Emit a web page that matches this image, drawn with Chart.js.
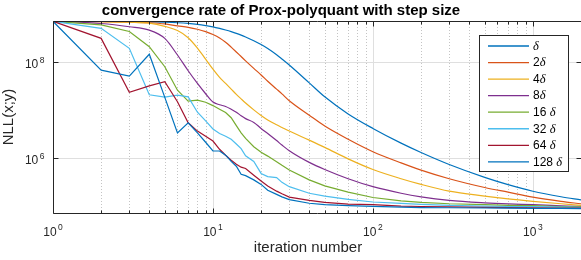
<!doctype html>
<html lang="en">
<head>
<meta charset="utf-8">
<title>convergence rate of Prox-polyquant with step size</title>
<script src="https://cdn.jsdelivr.net/npm/chart.js@4.4.1/dist/chart.umd.min.js"></script>
<style>
  body { margin: 0; background: #fff; }
  #wrap { width: 581px; height: 260px; }
</style>
</head>
<body>
<div id="wrap"><canvas id="conv" width="581" height="260"></canvas></div>
<script>
// iteration numbers shared by all runs
const iters = [1, 2, 3, 4, 5, 6, 7, 8, 9, 10, 11, 12, 13, 14, 15, 16, 18, 20, 22, 25, 27, 30,
               40, 50, 70, 100, 150, 200, 300, 500, 700, 1000, 1500, 2000];

// NLL(x;y) for each step size
const nll_1 = [7.0e8, 6.98e8, 6.95e8, 6.84e8, 6.7e8, 6.53e8, 6.31e8, 6.03e8, 5.71e8, 5.38e8, 4.99e8, 4.61e8, 4.26e8, 3.93e8, 3.61e8, 3.31e8, 2.77e8, 2.31e8, 1.91e8, 1.42e8, 1.16e8, 8.7e7,
               3.7e7, 1.9e7, 8.4e6, 4.2e6, 2.08e6, 1.33e6, 7.5e5, 4.05e5, 2.86e5, 2.09e5, 1.61e5, 1.39e5];
const nll_2 = [7.0e8, 6.92e8, 6.76e8, 6.53e8, 6.17e8, 5.62e8, 5.25e8, 4.79e8, 4.27e8, 3.72e8, 3.16e8, 2.57e8, 2.04e8, 1.62e8, 1.3e8, 1.06e8, 7.4e7, 5.4e7, 4.0e7, 2.75e7, 2.19e7, 1.58e7,
               7.9e6, 4.7e6, 2.5e6, 1.38e6, 8.1e5, 5.75e5, 3.8e5, 2.5e5, 2.0e5, 1.58e5, 1.29e5, 1.15e5];
const nll_4 = [7.0e8, 6.85e8, 6.7e8, 6.4e8, 5.5e8, 4.5e8, 3.2e8, 1.95e8, 1.15e8, 7.1e7, 4.8e7, 3.6e7, 2.75e7, 2.14e7, 1.72e7, 1.41e7, 1.02e7, 7.8e6, 6.3e6, 5.0e6, 4.4e6, 3.7e6,
               2.4e6, 1.7e6, 9.8e5, 5.9e5, 3.8e5, 2.9e5, 2.1e5, 1.66e5, 1.45e5, 1.29e5, 1.15e5, 1.07e5];
const nll_8 = [7.0e8, 6.3e8, 5.4e8, 4.6e8, 3.1e8, 1.4e8, 6.6e7, 3.6e7, 2.2e7, 1.48e7, 1.3e7, 1.2e7, 1.05e7, 9.1e6, 7.7e6, 6.7e6, 5.6e6, 4.2e6, 3.3e6, 2.35e6, 1.9e6, 1.45e6,
               8.3e5, 5.9e5, 3.8e5, 2.6e5, 1.9e5, 1.6e5, 1.35e5, 1.2e5, 1.14e5, 1.1e5, 1.04e5, 1.0e5];
const nll_16 = [7.0e8, 5.9e8, 4.3e8, 2.08e8, 8.0e7, 2.6e7, 1.55e7, 1.62e7, 1.47e7, 1.25e7, 1.05e7, 9.0e6, 7.0e6, 4.8e6, 3.4e6, 2.6e6, 1.75e6, 1.34e6, 1.12e6, 8.6e5, 7.2e5, 5.75e5,
                3.6e5, 2.7e5, 2.0e5, 1.55e5, 1.32e5, 1.23e5, 1.15e5, 1.1e5, 1.07e5, 1.05e5, 1.01e5, 9.9e4];
const nll_32 = [7.0e8, 5.0e8, 1.93e8, 2.1e7, 1.87e7, 2.06e7, 1.9e7, 9.1e6, 6.0e6, 4.1e6, 3.3e6, 2.9e6, 2.5e6, 2.0e6, 1.6e6, 1.14e6, 8.7e5, 4.9e5, 4.2e5, 4.0e5, 3.2e5, 2.6e5,
                1.9e5, 1.66e5, 1.42e5, 1.25e5, 1.17e5, 1.12e5, 1.07e5, 1.03e5, 1.01e5, 1.0e5, 9.8e4, 9.7e4];
const nll_64 = [7.0e8, 3.1e8, 2.35e7, 3.2e7, 3.9e7, 1.5e7, 5.5e6, 3.7e6, 2.9e6, 2.3e6, 1.55e6, 1.17e6, 9.2e5, 7.6e5, 6.6e5, 6.2e5, 4.5e5, 3.4e5, 2.7e5, 2.1e5, 1.85e5, 1.58e5,
                1.35e5, 1.23e5, 1.13e5, 1.1e5, 1.03e5, 1.01e5, 9.9e4, 9.7e4, 9.6e4, 9.5e4, 9.4e4, 9.3e4];
const nll_128 = [7.0e8, 6.8e7, 5.1e7, 1.45e8, 1.85e7, 3.4e6, 5.5e6, 3.4e6, 2.17e6, 1.43e6, 1.43e6, 1.17e6, 8.7e5, 6.9e5, 4.7e5, 4.4e5, 3.6e5, 2.9e5, 2.2e5, 1.8e5, 1.6e5, 1.4e5,
                 1.18e5, 1.1e5, 1.05e5, 1.02e5, 9.8e4, 9.6e4, 9.5e4, 9.4e4, 9.3e4, 9.2e4, 9.2e4, 9.1e4];

const seriesLabels = ['δ', '2δ', '4δ', '8δ', '16 δ', '32 δ', '64 δ', '128 δ'];
const seriesData = [nll_1, nll_2, nll_4, nll_8, nll_16, nll_32, nll_64, nll_128];
const seriesColors = ['#0072BD', '#D95319', '#EDB120', '#7E2F8E', '#77AC30', '#4DBEEE', '#A2142F', '#0072BD'];
// the small step sizes give smooth curves, the big ones zig-zag early on
const seriesSmooth = [true, true, true, true, false, false, false, false];

const xTicks = [1, 10, 100, 1000];
const xTickExp = ['0', '1', '2', '3'];
const yTicks = [1e6, 1e8];
const yTickExp = ['6', '8'];

const SANS = '"Liberation Sans", Arial, Helvetica, sans-serif';
const AXIS = '#262626';

// "10" with a raised exponent; align is 'center' or 'right'
function drawPow(ctx, exp, x, y, align) {
  ctx.font = '12px ' + SANS;
  const w1 = ctx.measureText('10').width;
  ctx.font = '8.5px ' + SANS;
  const w2 = ctx.measureText(exp).width;
  const total = w1 + 1.5 + w2;
  let x0 = align === 'right' ? x - total : x - total / 2;
  ctx.textAlign = 'left';
  ctx.textBaseline = 'alphabetic';
  ctx.fillStyle = AXIS;
  ctx.font = '12px ' + SANS;
  ctx.fillText('10', x0, y);
  ctx.font = '8.5px ' + SANS;
  ctx.fillText(exp, x0 + w1 + 1.5, y - 5.5);
}

function seg(ctx, x1, y1, x2, y2) {
  ctx.beginPath();
  ctx.moveTo(x1, y1);
  ctx.lineTo(x2, y2);
  ctx.stroke();
}

const matlabAxes = {
  id: 'matlabAxes',
  beforeDatasetsDraw(chart) {
    const ctx = chart.ctx, a = chart.chartArea;
    const xs = chart.scales.x, ys = chart.scales.y;
    ctx.save();
    // minor x grid (dotted)
    ctx.strokeStyle = '#c4c4c4';
    ctx.lineWidth = 1;
    ctx.setLineDash([1, 2]);
    for (let d = 1; d <= 1000; d *= 10) {
      for (let m = 2; m <= 9; m++) {
        const v = d * m;
        if (v >= xs.max) break;
        const px = Math.round(xs.getPixelForValue(v)) + 0.5;
        seg(ctx, px, a.top, px, a.bottom);
      }
    }
    ctx.setLineDash([]);
    // major grid
    ctx.strokeStyle = '#dfdfdf';
    xTicks.forEach(v => {
      const px = Math.round(xs.getPixelForValue(v)) + 0.5;
      seg(ctx, px, a.top, px, a.bottom);
    });
    yTicks.forEach(v => {
      const py = Math.round(ys.getPixelForValue(v)) + 0.5;
      seg(ctx, a.left, py, a.right, py);
    });
    ctx.restore();
  },
  afterDatasetsDraw(chart) {
    const ctx = chart.ctx, a = chart.chartArea;
    const xs = chart.scales.x, ys = chart.scales.y;
    ctx.save();
    ctx.strokeStyle = AXIS;
    ctx.lineWidth = 1;
    const L = a.left + 0.5, R = a.right + 0.5, T = a.top + 0.5, B = a.bottom + 0.5;
    seg(ctx, L, T, R, T);
    seg(ctx, L, B, R, B);
    seg(ctx, L, T, L, B);
    seg(ctx, R, T, R, B);
    // x ticks, bottom and top
    for (let d = 1; d <= 1000; d *= 10) {
      for (let m = 1; m <= 9; m++) {
        const v = d * m;
        if (v >= xs.max) break;
        const px = Math.round(xs.getPixelForValue(v)) + 0.5;
        const len = m === 1 ? 5 : 3;
        seg(ctx, px, B, px, B - len);
        seg(ctx, px, T, px, T + len);
      }
    }
    // y ticks, left and right
    yTicks.forEach(v => {
      const py = Math.round(ys.getPixelForValue(v)) + 0.5;
      seg(ctx, L, py, L + 5, py);
      seg(ctx, R, py, R - 5, py);
    });

    // legend
    const lx = 479.5, ly = 35.5, lw = 89, lh = 136;
    ctx.fillStyle = '#ffffff';
    ctx.fillRect(lx, ly, lw, lh);
    ctx.strokeStyle = AXIS;
    ctx.strokeRect(lx, ly, lw, lh);
    chart.data.datasets.forEach((ds, i) => {
      const cy = 46 + i * 16.55;
      ctx.strokeStyle = ds.borderColor;
      ctx.lineWidth = 1.3;
      seg(ctx, 488, cy, 529, cy);
      const parts = ds.label.split('δ');
      let tx = 533;
      ctx.fillStyle = '#000';
      ctx.textBaseline = 'middle';
      ctx.textAlign = 'left';
      ctx.font = '12px ' + SANS;
      if (parts[0]) {
        ctx.fillText(parts[0], tx, cy + 0.5);
        tx += ctx.measureText(parts[0]).width;
      }
      ctx.font = 'italic 12.5px "Liberation Serif", "DejaVu Serif", serif';
      ctx.fillText('δ', tx, cy + 0.5);
    });
    ctx.restore();
  },
  afterDraw(chart) {
    const ctx = chart.ctx, a = chart.chartArea;
    const xs = chart.scales.x, ys = chart.scales.y;
    ctx.save();
    xTicks.forEach((v, i) => drawPow(ctx, xTickExp[i], xs.getPixelForValue(v), 235.5, 'center'));
    yTicks.forEach((v, i) => drawPow(ctx, yTickExp[i], 44.5, ys.getPixelForValue(v) + 6, 'right'));

    ctx.fillStyle = '#000';
    ctx.textAlign = 'center';
    ctx.textBaseline = 'middle';
    ctx.font = 'bold 15px ' + SANS;
    ctx.fillText('convergence rate of Prox-polyquant with step size', 281, 11);

    ctx.fillStyle = AXIS;
    ctx.font = '15px ' + SANS;
    ctx.fillText('iteration number', 308, 248);

    ctx.translate(9, (a.top + a.bottom) / 2);
    ctx.rotate(-Math.PI / 2);
    ctx.fillText('NLL(x;y)', 0, 0);
    ctx.restore();
  }
};

const datasets = seriesData.map((vals, i) => ({
  label: seriesLabels[i],
  data: vals.map((y, k) => ({ x: iters[k], y: y })),
  borderColor: seriesColors[i],
  backgroundColor: seriesColors[i],
  borderWidth: 1.2,
  pointRadius: 0,
  cubicInterpolationMode: seriesSmooth[i] ? 'monotone' : 'default',
  tension: 0,
  fill: false,
  order: seriesData.length - 1 - i
}));

new Chart(document.getElementById('conv'), {
  type: 'line',
  data: { datasets },
  options: {
    responsive: false,
    animation: false,
    devicePixelRatio: 1,
    layout: { padding: { left: 53, top: 21, right: 0, bottom: 47 } },
    plugins: {
      legend: { display: false },
      title: { display: false },
      tooltip: { enabled: false }
    },
    scales: {
      x: { type: 'logarithmic', min: 1, max: 2000, display: false },
      y: { type: 'logarithmic', min: 7.4e4, max: 7.1e8, display: false }
    }
  },
  plugins: [matlabAxes]
});
</script>
</body>
</html>
